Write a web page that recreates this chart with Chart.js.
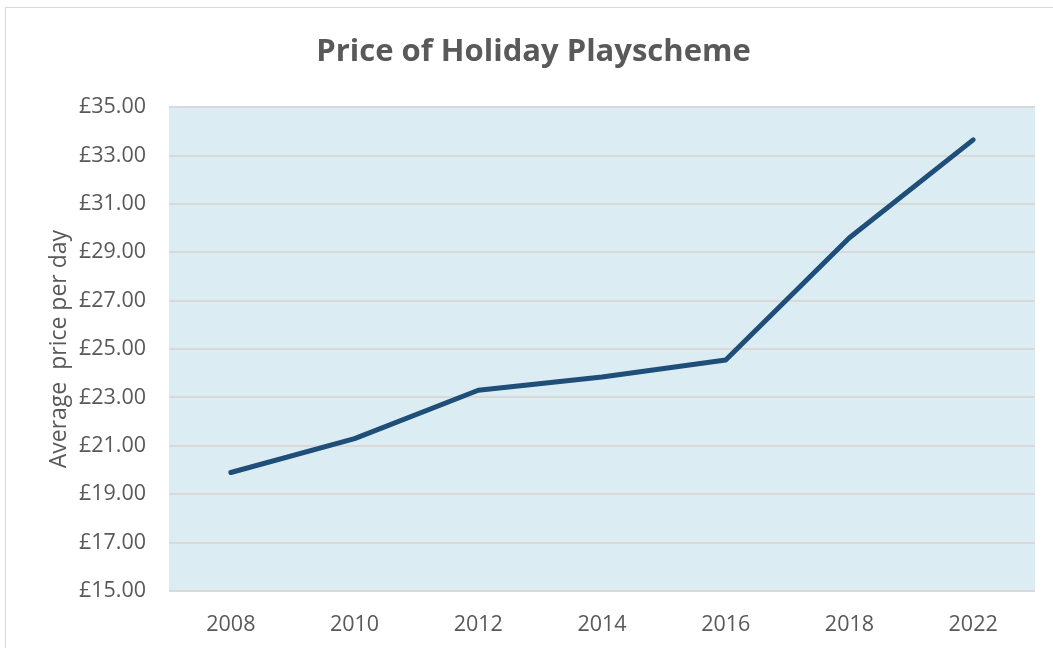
<!DOCTYPE html>
<html>
<head>
<meta charset="utf-8">
<script src="https://cdn.jsdelivr.net/npm/chart.js@4"></script>
<style>
  html, body { margin: 0; padding: 0; background: #fff; }
  #wrap { position: relative; width: 1053px; height: 648px; }
  #frame { position: absolute; left: 5px; top: 7px; width: 1060px; height: 660px; border: 1px solid #d9d9d9; box-sizing: border-box; }
  canvas { position: absolute; left: 0; top: 0; }
</style>
</head>
<body>
<div id="wrap">
  <div id="frame"></div>
  <canvas id="priceChart" width="1053" height="648"></canvas>
</div>
<script>
  // years and average price per day (£)
  const years = ['2008', '2010', '2012', '2014', '2016', '2018', '2022'];
  const prices = [19.90, 21.30, 23.30, 23.85, 24.55, 29.60, 33.65];

  const chartTitle = 'Price of Holiday Playscheme';
  const yTitle = 'Average  price per day';

  // light blue plot area behind the grid
  const plotBg = {
    id: 'plotBg',
    beforeDraw(chart) {
      const a = chart.chartArea;
      const c = chart.ctx;
      c.save();
      c.fillStyle = '#dbedf3';
      c.fillRect(a.left, a.top, a.right - a.left, a.bottom - a.top);
      c.restore();
    }
  };

  const ctx = document.getElementById('priceChart').getContext('2d');
  const myChart = new Chart(ctx, {
    type: 'line',
    data: {
      labels: years,
      datasets: [{
        label: 'Price',
        data: prices,
        borderColor: '#1f4e79',
        borderWidth: 5,
        borderCapStyle: 'round',
        borderJoinStyle: 'round',
        pointRadius: 0,
        tension: 0,
        fill: false
      }]
    },
    options: {
      responsive: false,
      animation: false,
      layout: { padding: { top: 26, right: 18, bottom: 0, left: 32 } },
      plugins: {
        legend: { display: false },
        tooltip: { enabled: false },
        title: {
          display: true,
          text: chartTitle,
          color: '#595959',
          font: { family: 'Open Sans', size: 31, weight: 'bold' },
          padding: { top: 8, bottom: 36 }
        }
      },
      scales: {
        x: {
          offset: true,
          afterFit(scale) { scale.height = 57; },
          grid: { display: false },
          border: { display: false },
          ticks: {
            color: '#595959',
            font: { family: 'Open Sans', size: 21.5 },
            padding: 13
          }
        },
        y: {
          min: 15,
          max: 35,
          afterFit(scale) { scale.width = 137; },
          grid: { color: '#d9d9d9', lineWidth: 2, drawTicks: false },
          border: { display: false },
          ticks: {
            stepSize: 2,
            color: '#595959',
            padding: 23,
            font: { family: 'Open Sans', size: 21.5 },
            callback: v => '£' + Number(v).toFixed(2)
          },
          title: {
            display: true,
            text: yTitle,
            color: '#595959',
            font: { family: 'Open Sans', size: 23 },
            padding: { top: 14, bottom: 0 }
          }
        }
      }
    },
    plugins: [plotBg]
  });
</script>
</body>
</html>
